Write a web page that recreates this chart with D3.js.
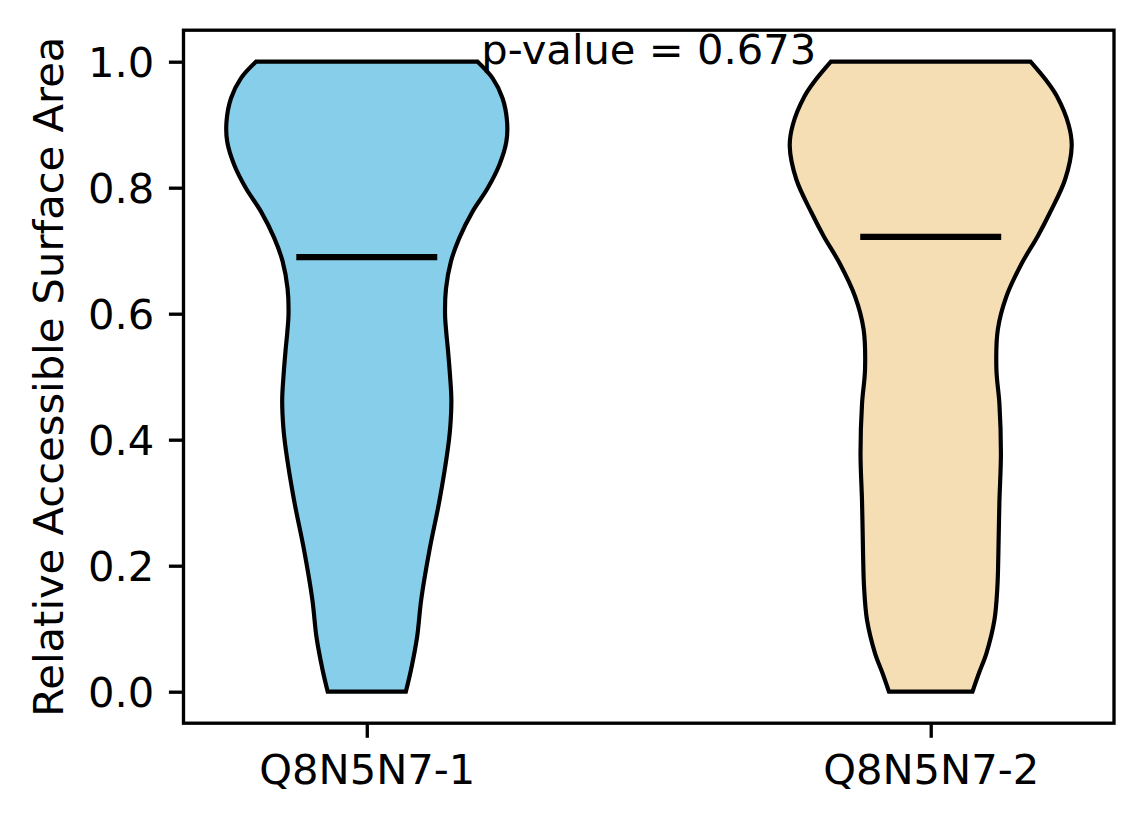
<!DOCTYPE html>
<html>
<head>
<meta charset="utf-8">
<script src="https://cdn.jsdelivr.net/npm/d3@7"></script>
<style>
  html, body { margin: 0; padding: 0; background: #fff; }
  svg { display: block; }
  text { font-family: "DejaVu Sans", sans-serif; }
</style>
</head>
<body>
<svg id="chart" width="1144" height="824"></svg>
<script>
// ---- data ----
const categories = ["Q8N5N7-1", "Q8N5N7-2"];
const positions = [1, 2];
const colors = ["#87CEEB", "#F5DEB3"];
// density profile (value on y axis, relative density 0..1)
const violin1Values = [1.0, 0.974, 0.942, 0.905, 0.873, 0.836, 0.799, 0.762, 0.72, 0.683, 0.64, 0.60, 0.57, 0.542, 0.50, 0.463, 0.42, 0.384, 0.304, 0.225, 0.146, 0.087, 0.034, 0.0];
const violin1Density = [0.786, 0.892, 0.963, 0.995, 0.99, 0.94, 0.857, 0.75, 0.656, 0.597, 0.562, 0.555, 0.564, 0.576, 0.591, 0.60, 0.592, 0.574, 0.516, 0.445, 0.386, 0.357, 0.313, 0.277];
const violin2Values = [1.0, 0.97, 0.945, 0.9, 0.866, 0.813, 0.761, 0.723, 0.68, 0.627, 0.575, 0.511, 0.458, 0.379, 0.30, 0.22, 0.167, 0.114, 0.061, 0.03, 0.0];
const violin2Density = [0.708, 0.82, 0.895, 0.978, 1.0, 0.953, 0.847, 0.759, 0.646, 0.536, 0.476, 0.466, 0.487, 0.498, 0.487, 0.48, 0.473, 0.452, 0.395, 0.343, 0.296];
const medians = [0.690, 0.722];
const yTicks = [0.0, 0.2, 0.4, 0.6, 0.8, 1.0];
const pValueText = "p-value = 0.673";
const yLabel = "Relative Accessible Surface Area";

// ---- layout ----
const W = 1144, H = 824;
const plotLeft = 183.5, plotRight = 1114, plotTop = 30.2, plotBottom = 723.2;
const FS = 41.67;
const svg = d3.select("#chart");
svg.append("rect").attr("width", W).attr("height", H).attr("fill", "#fff");

const x = d3.scaleLinear().domain([0.675, 2.325]).range([plotLeft, plotRight]);
const y = d3.scaleLinear().domain([-0.05, 1.05]).range([plotBottom, plotTop]);
const halfWidth = 0.25; // violin half-width in x data units
const wScale = d3.scaleLinear().domain([0, 1]).range([0, halfWidth]);

const violins = [
  { pos: positions[0], color: colors[0], pts: violin1Values.map((v, i) => ({ v, d: violin1Density[i] })), med: medians[0] },
  { pos: positions[1], color: colors[1], pts: violin2Values.map((v, i) => ({ v, d: violin2Density[i] })), med: medians[1] }
];

const g = svg.append("g");
violins.forEach(vi => {
  const area = d3.area()
    .curve(d3.curveCatmullRom.alpha(0.5))
    .y(d => y(d.v))
    .x0(d => x(vi.pos - wScale(d.d)))
    .x1(d => x(vi.pos + wScale(d.d)));
  g.append("path")
    .attr("d", area(vi.pts))
    .attr("fill", vi.color)
    .attr("stroke", "#000")
    .attr("stroke-width", 4.17)
    .attr("stroke-linejoin", "miter");
  g.append("line")
    .attr("x1", x(vi.pos - halfWidth / 2))
    .attr("x2", x(vi.pos + halfWidth / 2))
    .attr("y1", y(vi.med))
    .attr("y2", y(vi.med))
    .attr("stroke", "#000")
    .attr("stroke-width", 6.25);
});

// axes
const tickLen = 14.58, tickPad = 14.58, lw = 3.33;
const yAxis = d3.axisLeft(y).tickValues(yTicks).tickFormat(d3.format(".1f"))
  .tickSize(tickLen).tickPadding(tickPad);
const ya = svg.append("g").attr("transform", `translate(${plotLeft},0)`).call(yAxis);
ya.select(".domain").remove();
ya.selectAll(".tick line").attr("stroke", "#000").attr("stroke-width", lw);
ya.selectAll(".tick text").attr("font-size", FS).attr("fill", "#000")
  .attr("font-family", "DejaVu Sans, sans-serif").attr("dy", "0.35em");

const xAxis = d3.axisBottom(x).tickValues(positions).tickFormat((d, i) => categories[i])
  .tickSize(tickLen).tickPadding(tickPad);
const xa = svg.append("g").attr("transform", `translate(0,${plotBottom})`).call(xAxis);
xa.select(".domain").remove();
xa.selectAll(".tick line").attr("stroke", "#000").attr("stroke-width", lw);
xa.selectAll(".tick text").attr("font-size", FS).attr("fill", "#000")
  .attr("font-family", "DejaVu Sans, sans-serif").attr("dy", "0.76em");

// frame
svg.append("rect")
  .attr("x", plotLeft).attr("y", plotTop)
  .attr("width", plotRight - plotLeft).attr("height", plotBottom - plotTop)
  .attr("fill", "none").attr("stroke", "#000").attr("stroke-width", lw);

// y label
svg.append("text")
  .attr("transform", `translate(63,${(plotTop + plotBottom) / 2}) rotate(-90)`)
  .attr("text-anchor", "middle")
  .attr("font-size", FS)
  .attr("fill", "#000")
  .text(yLabel);

// p-value annotation
svg.append("text")
  .attr("x", x(1.5))
  .attr("y", y(0.996))
  .attr("text-anchor", "middle")
  .attr("font-size", FS)
  .attr("fill", "#000")
  .text(pValueText);
</script>
</body>
</html>
